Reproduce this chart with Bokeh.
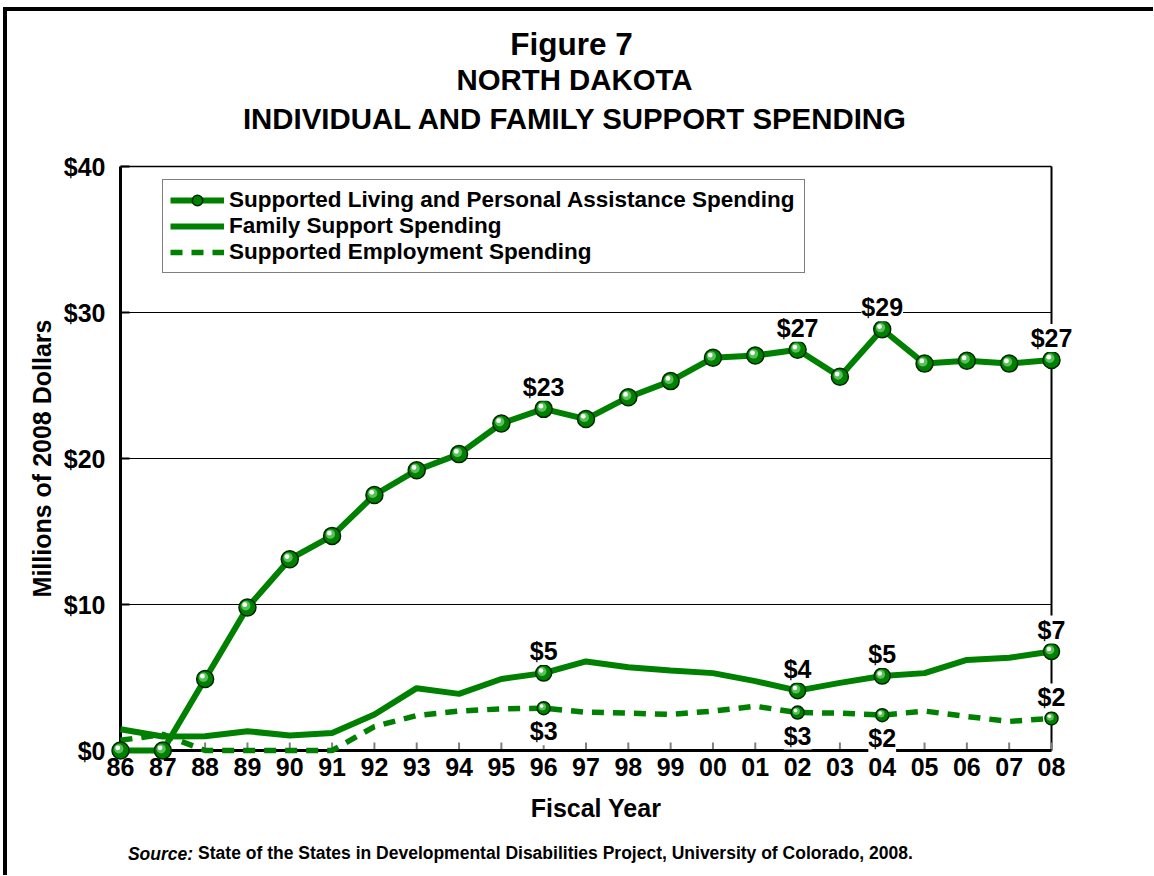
from bokeh.plotting import figure
from bokeh.models import (Range1d, FixedTicker, LinearAxis, LabelSet,
                          ColumnDataSource, Legend, LegendItem)
from bokeh.core.properties import value
from bokeh.transform import dodge
from bokeh.embed import file_html
from bokeh.resources import INLINE

# ---------------- data ----------------
years = ["86", "87", "88", "89", "90", "91", "92", "93", "94", "95", "96", "97",
         "98", "99", "00", "01", "02", "03", "04", "05", "06", "07", "08"]
supported_living = [0.0, 0.0, 4.9, 9.8, 13.1, 14.7, 17.5, 19.2, 20.3, 22.4, 23.4, 22.7,
                    24.2, 25.3, 26.9, 27.05, 27.45, 25.6, 28.85, 26.5, 26.7, 26.5, 26.75]
family_support = [1.45, 0.96, 0.98, 1.32, 1.03, 1.2, 2.47, 4.27, 3.88, 4.9, 5.3, 6.1,
                  5.7, 5.48, 5.3, 4.75, 4.1, 4.63, 5.1, 5.3, 6.2, 6.35, 6.78]
supported_employment = [0.7, 1.1, 0.0, 0.0, 0.0, 0.0, 1.64, 2.4, 2.7, 2.85, 2.9, 2.62,
                        2.56, 2.47, 2.7, 3.03, 2.6, 2.56, 2.42, 2.7, 2.33, 1.99, 2.2]
labeled_years = ["96", "02", "04", "08"]
y_ticks = [0, 10, 20, 30, 40]
y_tick_labels = ["$0", "$10", "$20", "$30", "$40"]
series_names = ["Supported Living and Personal Assistance Spending",
                "Family Support Spending",
                "Supported Employment Spending"]
title_lines = ["Figure 7", "NORTH DAKOTA", "INDIVIDUAL AND FAMILY SUPPORT SPENDING"]
source_lead = "Source:"
source_text = "State of the States in Developmental Disabilities Project, University of Colorado, 2008."

# ---------------- layout ----------------
FONT = "Liberation Sans"
GREEN = "#008000"
W, H = 1150, 868
OX, OY = 7, 11                      # canvas origin on the page
PXX = 931.0 / 22.0                  # px per x unit
PXY = 584.0 / 40.0                  # px per y unit
PADL, PADR, PADT, PADB = 10, 30, 10, 10
BL, BT = 103, 145                   # frame left / top on canvas
FW = 931 + PADL + PADR
FH = 584 + PADT + PADB
BR = W - BL - FW
BB = H - BT - FH
DATA_LEFT_PAGE = OX + BL + PADL

xs = list(range(len(years)))
x0, x1 = xs[0], xs[-1]
y0, y1 = y_ticks[0], y_ticks[-1]


def page_to_x(px):
    return (px - DATA_LEFT_PAGE) / PXX


p = figure(width=W, height=H, output_backend="svg", toolbar_location=None,
           x_range=Range1d(x0 - PADL / PXX, x1 + PADR / PXX),
           y_range=Range1d(y0 - PADB / PXY, y1 + PADT / PXY),
           min_border_left=BL, min_border_right=BR, min_border_top=BT, min_border_bottom=BB)
p.outline_line_color = None
p.background_fill_color = "white"
p.border_fill_color = "white"
p.xgrid.visible = False
p.ygrid.visible = False
p.styles = {"border-left": "4px solid black", "border-top": "4px solid black",
            "margin-left": "3px", "margin-top": "7px"}

# axes (labels only; lines drawn in data space below)
xa = p.xaxis[0]
xa.ticker = FixedTicker(ticks=xs)
xa.major_label_overrides = {i: y for i, y in zip(xs, years)}
xa.axis_line_color = None
xa.major_tick_line_color = None
xa.minor_tick_line_color = None
xa.major_label_standoff = -9
xa.major_label_text_font = FONT
xa.major_label_text_font_style = "bold"
xa.major_label_text_font_size = "25px"
xa.major_label_text_color = "black"
xa.axis_label = "Fiscal Year"
xa.axis_label_text_font = FONT
xa.axis_label_text_font_style = "bold"
xa.axis_label_text_font_size = "25px"
xa.axis_label_text_color = "black"
xa.axis_label_standoff = 15

ya = p.yaxis[0]
ya.ticker = FixedTicker(ticks=y_ticks)
ya.major_label_overrides = {t: s for t, s in zip(y_ticks, y_tick_labels)}
ya.axis_line_color = None
ya.major_tick_line_color = None
ya.minor_tick_line_color = None
ya.major_label_standoff = -1
ya.major_label_text_font = FONT
ya.major_label_text_font_style = "bold"
ya.major_label_text_font_size = "25px"
ya.major_label_text_color = "black"
ya.axis_label = "Millions of 2008 Dollars"
ya.axis_label_text_font = FONT
ya.axis_label_text_font_style = "bold"
ya.axis_label_text_font_size = "25px"
ya.axis_label_text_color = "black"
ya.axis_label_standoff = 5


def text_axis(side, pos, text, size, style, standoff):
    ax = LinearAxis(ticker=FixedTicker(ticks=[pos]), major_label_overrides={pos: text},
                    axis_line_color=None, major_tick_line_color=None,
                    minor_tick_line_color=None, major_tick_in=0, major_tick_out=0,
                    major_label_standoff=standoff, major_label_text_font=FONT,
                    major_label_text_font_size=size, major_label_text_font_style=style,
                    major_label_text_color="black")
    p.add_layout(ax, side)
    return ax


# title lines (nearest the plot first)
text_axis("above", page_to_x(575), title_lines[2], "29.4px", "bold", 22)
text_axis("above", page_to_x(574), title_lines[1], "29.4px", "bold", 3)
text_axis("above", page_to_x(571), title_lines[0], "31.5px", "bold", -2)

# source line
text_axis("below", page_to_x(160), source_lead, "17.5px", "bold italic", 19)
text_axis("below", page_to_x(555), source_text, "17.5px", "bold", -24)

# gridlines and the plot-area box
grid_vals = y_ticks[1:-1]
p.segment(x0=[x0] * len(grid_vals), x1=[x1] * len(grid_vals), y0=grid_vals, y1=grid_vals,
          line_color="black", line_width=1)
p.segment(x0=[x0], x1=[x1], y0=[y1], y1=[y1], line_color="black", line_width=1.5)
p.segment(x0=[x1], x1=[x1], y0=[y0], y1=[y1], line_color="black", line_width=2)
# tick marks (inside)
p.segment(x0=xs, x1=xs, y0=[y0] * len(xs), y1=[y0 + 8 / PXY] * len(xs),
          line_color="#808080", line_width=2)
p.segment(x0=[x0] * len(y_ticks), x1=[x0 + 9 / PXX] * len(y_ticks), y0=y_ticks, y1=y_ticks,
          line_color="black", line_width=2)
p.segment(x0=[x0], x1=[x0], y0=[y0], y1=[y1], line_color="black", line_width=3)
p.segment(x0=[x0], x1=[x1], y0=[y0], y1=[y0], line_color="black", line_width=3)

# lines
sl_line = p.line(xs, supported_living, line_color=GREEN, line_width=6)
fs_line = p.line(xs, family_support, line_color=GREEN, line_width=6)
se_line = p.line(xs, supported_employment, line_color=GREEN, line_width=5.5, line_dash="12 9")


def spheres(xv, yv, size):
    src = ColumnDataSource(dict(x=xv, y=yv))
    r = p.scatter("x", "y", source=src, size=size, fill_color=GREEN,
                  line_color="#002800", line_width=1.5)
    p.scatter(x=dodge("x", -size * 0.10 / PXX), y=dodge("y", size * 0.10 / PXY), source=src,
              size=size * 0.55, fill_color="#6fcf6f", fill_alpha=0.8, line_color=None)
    p.scatter(x=dodge("x", -size * 0.16 / PXX), y=dodge("y", size * 0.16 / PXY), source=src,
              size=size * 0.28, fill_color="white", line_color=None)
    return r


lab_idx = [years.index(y) for y in labeled_years]
sl_mark = spheres(xs, supported_living, 17)
spheres([xs[i] for i in lab_idx], [family_support[i] for i in lab_idx], 16)
spheres([xs[i] for i in lab_idx], [supported_employment[i] for i in lab_idx], 13)


def value_labels(vals, offsets):
    src = ColumnDataSource(dict(x=[xs[i] for i in lab_idx], y=[vals[i] for i in lab_idx],
                                t=["$%.0f" % vals[i] for i in lab_idx], dy=offsets))
    ls = LabelSet(x="x", y="y", text="t", y_offset="dy", source=src,
                  text_align="center", text_baseline="middle",
                  text_font=value(FONT), text_font_style="bold", text_font_size="25px",
                  text_color="black", background_fill_color="white")
    p.add_layout(ls)


value_labels(supported_living, [22, 22, 22, 22])
value_labels(family_support, [22, 22, 22, 22])
value_labels(supported_employment, [-23, -23, -23, 21])

# legend
FRAME_LEFT_PAGE = OX + BL
FRAME_BOTTOM_PAGE = OY + BT + FH
legend = Legend(items=[LegendItem(label=series_names[0], renderers=[sl_line, sl_mark]),
                       LegendItem(label=series_names[1], renderers=[fs_line]),
                       LegendItem(label=series_names[2], renderers=[se_line])],
                location=(162 - FRAME_LEFT_PAGE, FRAME_BOTTOM_PAGE - 273),
                label_text_font=FONT, label_text_font_style="bold", label_text_font_size="22.5px",
                label_text_color="black",
                border_line_color="black", border_line_width=1.5,
                background_fill_color="white", background_fill_alpha=1.0,
                glyph_width=54, glyph_height=26, label_height=20, label_width=568,
                label_standoff=5, spacing=0, padding=7, margin=0)
p.add_layout(legend, "center")

open("out.html", "w").write(file_html(p, INLINE))
